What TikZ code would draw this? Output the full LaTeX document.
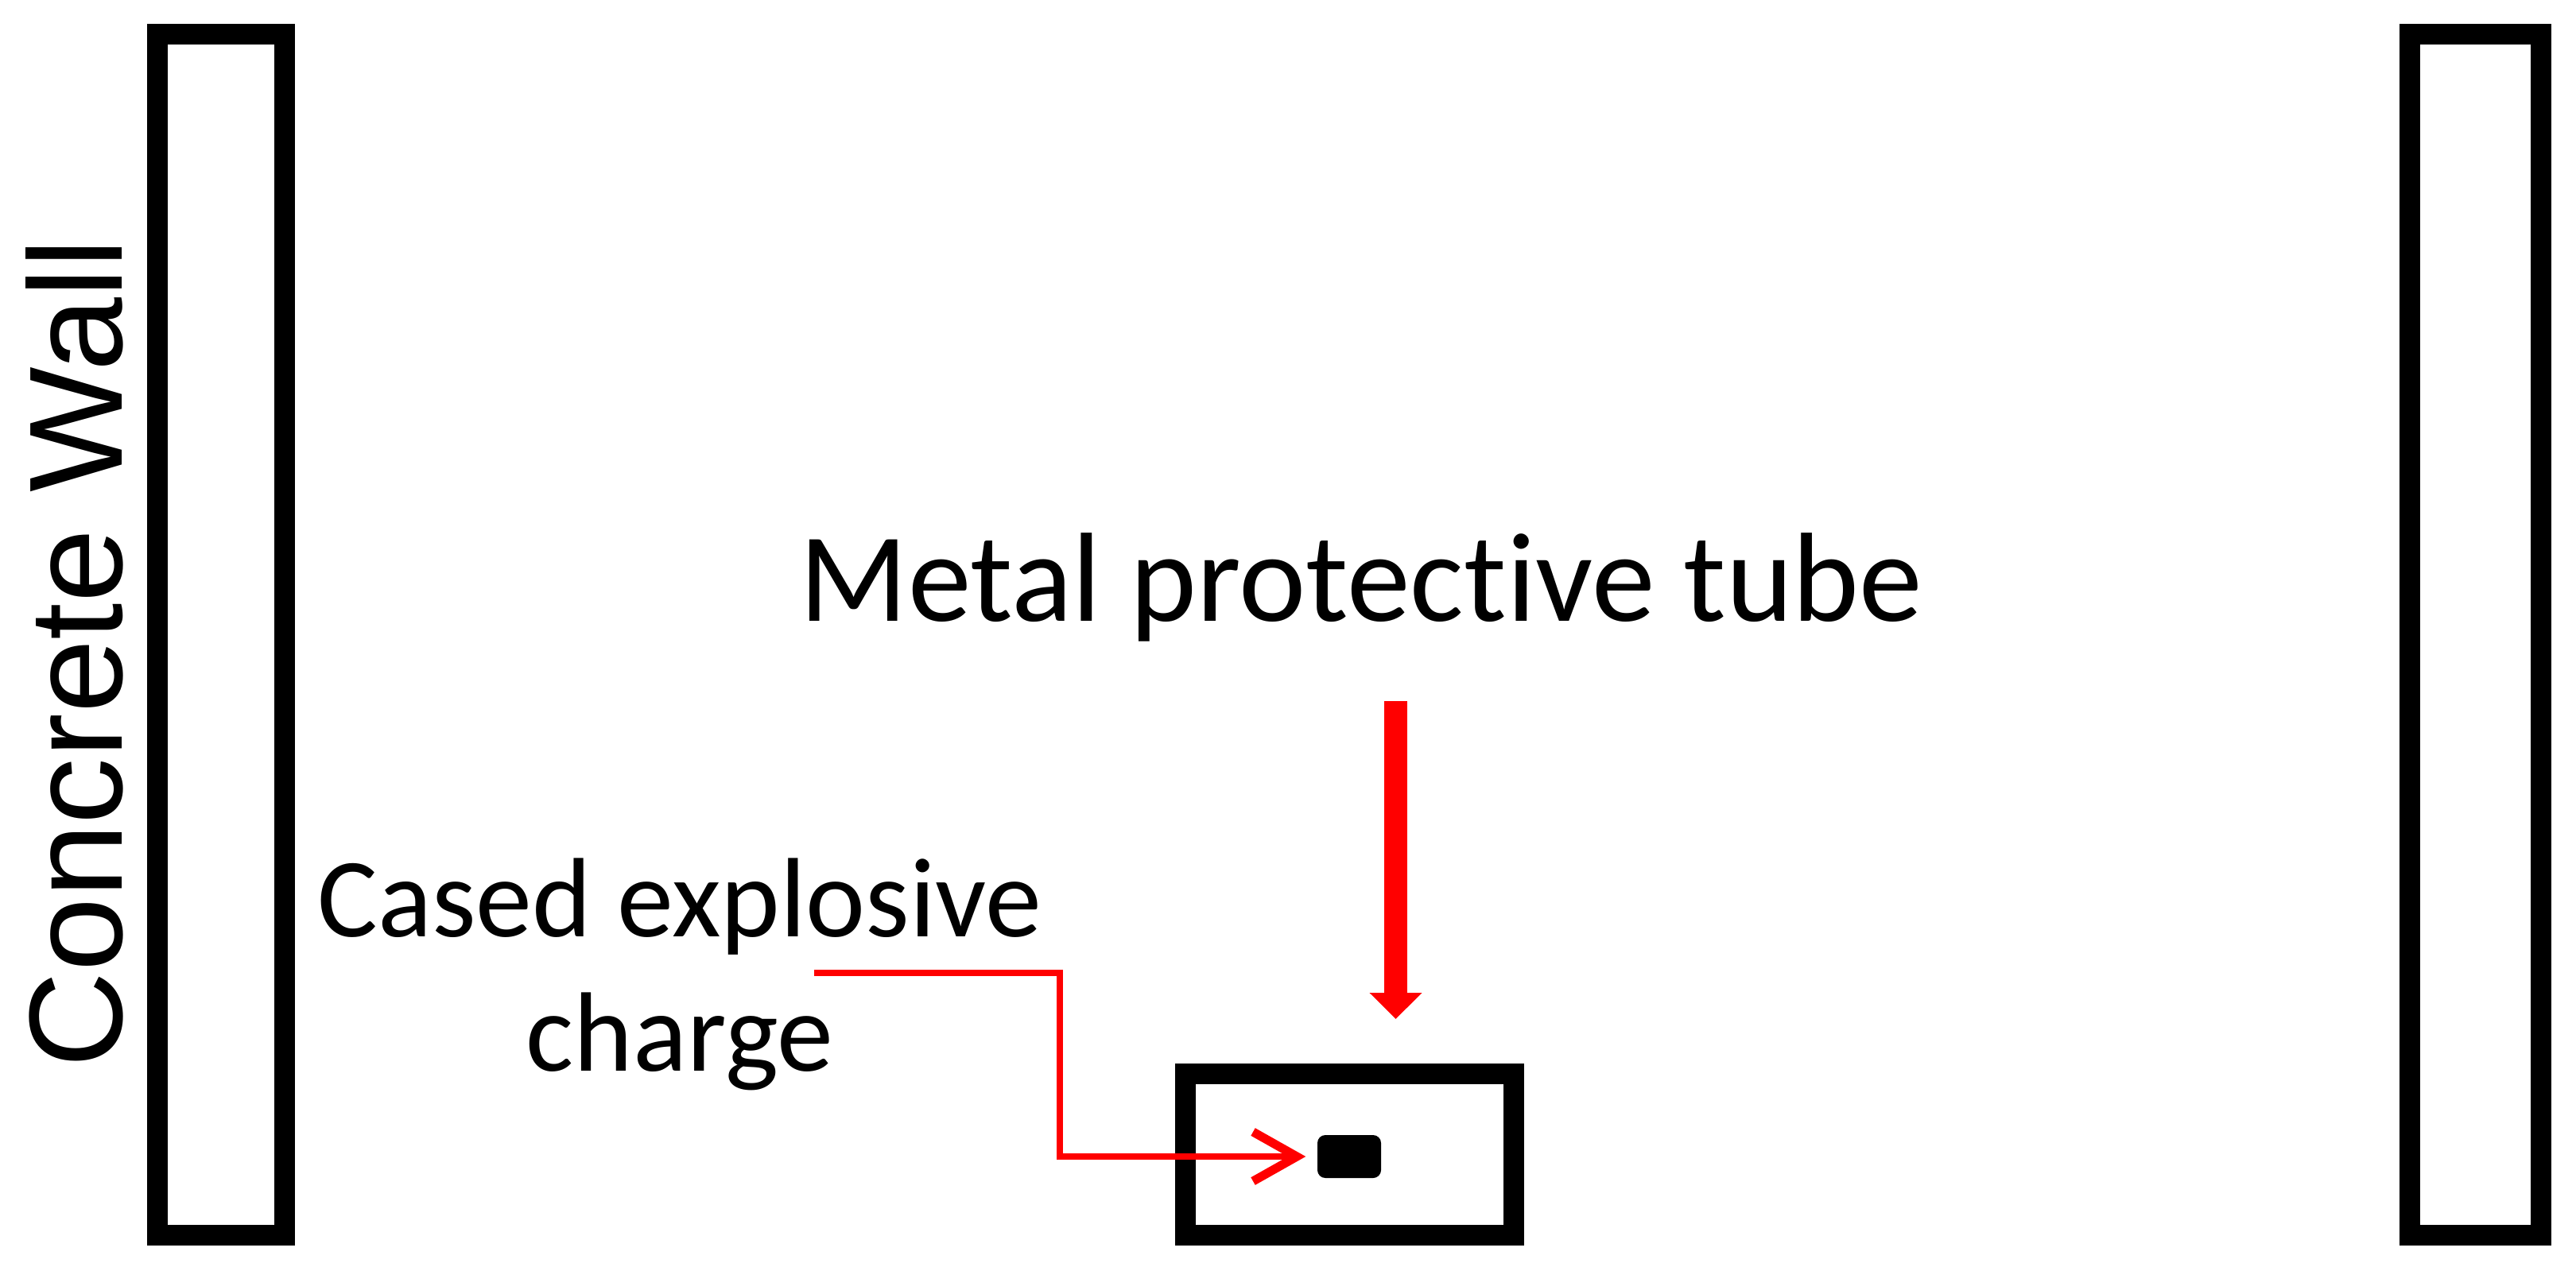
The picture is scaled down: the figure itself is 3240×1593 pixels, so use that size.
\documentclass[tikz,border=0pt]{standalone}
\usepackage{fontspec}
\setmainfont{Carlito}[Ligatures=CommonOff]
\newfontfamily\wallfont{Liberation Sans}
\usetikzlibrary{arrows.meta}
\definecolor{pptred}{RGB}{255,0,0}
\begin{document}
\begin{tikzpicture}[x=0.01cm,y=-0.01cm,
  wallbox/.style={draw=black,line width=0.255cm,inner sep=0pt,outer sep=0pt,minimum width=#1},
  chargebox/.style={fill=black,rounded corners=0.1cm,inner sep=0pt,minimum width=0.8cm,minimum height=0.54cm},
  lbl/.style={inner sep=0pt,outer sep=0pt,text=black},
  thinconn/.style={draw=pptred,line width=0.075cm,-{Straight Barb[length=0.55cm,width=0.62cm,line width=0.11cm]}},
  bigarrow/.style={draw=pptred,line width=0.29cm,-{Triangle[length=0.33cm,width=0.64cm]},pptred}]
\useasboundingbox (0,0) rectangle (3240,1593);
% walls
\node[wallbox=1.6cm,minimum height=15.1cm] (lwall) at (278,798.5) {};
\node[wallbox=1.65cm,minimum height=15.1cm] (rwall) at (3113.5,798.5) {};
% tube
\node[wallbox=4.13cm,minimum height=2.03cm] (tube) at (1697.5,1452.5) {};
% charge
\node[chargebox] (charge) at (1697,1455) {};
% labels
\node[lbl,rotate=90,anchor=base,font=\wallfont\fontsize{47.5pt}{56pt}\selectfont] (wall) at (153,822) {Concrete Wall};
\node[lbl,anchor=base,font=\fontsize{45.4pt}{54pt}\selectfont] (metal) at (1712,781) {Metal protective tube};
\node[lbl,anchor=base,align=center,font=\fontsize{40.4pt}{48pt}\selectfont] (cased) at (855,1347) {Cased explosive\\charge};
% connectors
\coordinate (mstart) at (1755.5,882);
\coordinate (mend) at (1755.5,1282);
\draw[bigarrow] (mstart) -- (mend);
\coordinate (cstart) at (1024,1224);
\draw[thinconn,shorten >=0.14cm] (cstart) -- (1333,1224) |- (charge.west);
\end{tikzpicture}
\end{document}
